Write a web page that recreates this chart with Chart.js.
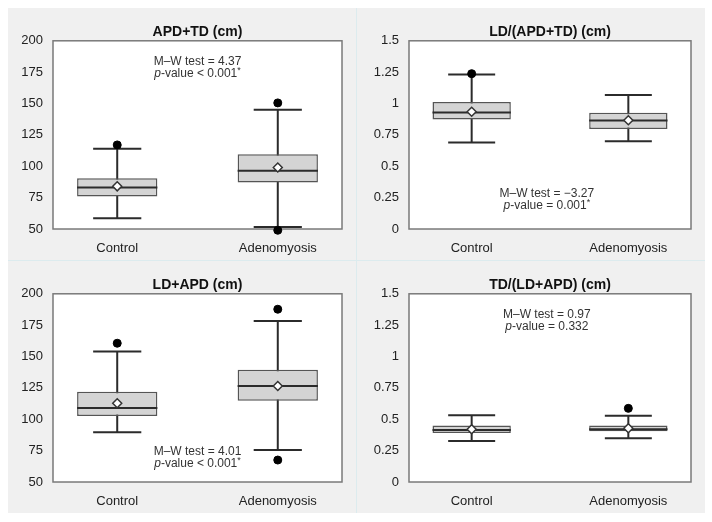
<!DOCTYPE html>
<html>
<head>
<meta charset="utf-8">
<script src="https://cdn.jsdelivr.net/npm/chart.js@4.4.0/dist/chart.umd.min.js"></script>
<style>
  html, body { margin: 0; background: #fff; }
  #grid {
    position: absolute; left: 8px; top: 8px;
    display: grid; grid-template-columns: 348px 348px; grid-template-rows: 252px 252px;
    gap: 1px; background: #dcebee;
  }
  canvas { display: block; background: #f0f0f0; }
</style>
</head>
<body>
<div id="grid">
  <canvas id="apdTd" width="348" height="252"></canvas>
  <canvas id="ldRatio" width="348" height="252"></canvas>
  <canvas id="ldApd" width="348" height="252"></canvas>
  <canvas id="tdRatio" width="348" height="252"></canvas>
</div>
<script>
const categories = ['Control', 'Adenomyosis'];

// each group: lower whisker, Q1, median, Q3, upper whisker
const apdTdControl = [58.5, 76, 83, 90.5, 114];
const apdTdAdeno = [51.5, 87, 96.5, 109.5, 145];
const apdTdMeans = [84, 99];
const apdTdOutliers = [[117], [150.5, 49]];

const ldRatioControl = [0.69, 0.872, 0.928, 1.012, 1.232];
const ldRatioAdeno = [0.70, 0.797, 0.864, 0.927, 1.068];
const ldRatioMeans = [0.934, 0.867];
const ldRatioOutliers = [[1.238], []];

const ldApdControl = [89.7, 102.6, 109, 121.9, 154];
const ldApdAdeno = [75.5, 114.7, 126.5, 139.4, 178.3];
const ldApdMeans = [112.8, 126.5];
const ldApdOutliers = [[160.6], [187.7, 67.5]];

const tdRatioControl = [0.327, 0.391, 0.415, 0.45, 0.533];
const tdRatioAdeno = [0.348, 0.404, 0.42, 0.45, 0.528];
const tdRatioMeans = [0.42, 0.428];
const tdRatioOutliers = [[], [0.587]];

const cmTicks = [50, 75, 100, 125, 150, 175, 200];
const ratioTicks = [0, 0.25, 0.5, 0.75, 1, 1.25, 1.5];

const mwTests = ['4.37', '\u22123.27', '4.01', '0.97'];
const pValues = ['< 0.001', '= 0.001', '< 0.001', '= 0.332'];
const pSignificant = [true, true, true, false];

Chart.defaults.font.family = '"Liberation Sans", Arial, sans-serif';
Chart.defaults.color = '#222';

// white plot area with a grey frame
const framePlugin = {
  id: 'frame',
  beforeDatasetsDraw(chart) {
    const { ctx, chartArea: a } = chart;
    ctx.save();
    ctx.fillStyle = '#fff';
    ctx.fillRect(a.left, a.top, a.width, a.height);
    ctx.strokeStyle = '#7a7a7a';
    ctx.lineWidth = 1.5;
    ctx.strokeRect(a.left, a.top, a.width, a.height);
    ctx.restore();
  }
};

// Mann-Whitney text, placed in data units
const notePlugin = {
  id: 'note',
  afterDatasetsDraw(chart, args, opts) {
    const { ctx, scales: { x, y } } = chart;
    const cx = x.getPixelForValue(opts.x);
    let cy = y.getPixelForValue(opts.y);
    const normal = '12px "Liberation Sans", Arial, sans-serif';
    const italic = 'italic 12px "Liberation Sans", Arial, sans-serif';
    const small = '9px "Liberation Sans", Arial, sans-serif';
    ctx.save();
    ctx.fillStyle = '#333';
    ctx.textBaseline = 'middle';
    ctx.textAlign = 'left';
    opts.lines.forEach(parts => {
      let w = 0;
      parts.forEach(p => {
        ctx.font = p.s === 'i' ? italic : p.s === 'sup' ? small : normal;
        w += ctx.measureText(p.t).width;
      });
      let px = cx - w / 2;
      parts.forEach(p => {
        ctx.font = p.s === 'i' ? italic : p.s === 'sup' ? small : normal;
        ctx.fillText(p.t, px, p.s === 'sup' ? cy - 3 : cy);
        px += ctx.measureText(p.t).width;
      });
      cy += opts.lineGap;
    });
    ctx.restore();
  }
};

function noteLines(i) {
  const second = [{ t: 'p', s: 'i' }, { t: '-value ' + pValues[i], s: '' }];
  if (pSignificant[i]) second.push({ t: '*', s: 'sup' });
  return [[{ t: 'M\u2013W test = ' + mwTests[i], s: '' }], second];
}

function boxPanel(id, title, groups, means, outliers, yTicks, note, axisWidth) {
  const whiskers = [];
  const medians = [];
  groups.forEach((s, i) => {
    const x = i + 1;
    whiskers.push(
      { x, y: s[0] }, { x, y: s[4] }, { x, y: null },
      { x: x - 0.15, y: s[0] }, { x: x + 0.15, y: s[0] }, { x, y: null },
      { x: x - 0.15, y: s[4] }, { x: x + 0.15, y: s[4] }, { x, y: null }
    );
    medians.push({ x: x - 0.25, y: s[2] }, { x: x + 0.25, y: s[2] }, { x, y: null });
  });
  const outlierPts = [];
  outliers.forEach((list, i) => list.forEach(v => outlierPts.push({ x: i + 1, y: v })));

  new Chart(document.getElementById(id), {
    type: 'bar',
    data: {
      datasets: [
        {
          type: 'line', data: whiskers, borderColor: '#2b2b2b', borderWidth: 2,
          pointRadius: 0, spanGaps: false, order: 5
        },
        {
          type: 'bar', data: groups.map((s, i) => ({ x: i + 1, y: [s[1], s[3]] })),
          backgroundColor: '#d4d4d4', borderColor: '#555', borderWidth: 1.5,
          borderSkipped: false, barPercentage: 0.5, categoryPercentage: 1, order: 4
        },
        {
          type: 'line', data: medians, borderColor: '#2b2b2b', borderWidth: 2,
          pointRadius: 0, spanGaps: false, order: 3
        },
        {
          type: 'line', data: means.map((v, i) => ({ x: i + 1, y: v })), showLine: false,
          pointStyle: 'rectRot', pointRadius: 4.5, pointBackgroundColor: '#fff',
          pointBorderColor: '#333', pointBorderWidth: 1.5, order: 2
        },
        {
          type: 'line', data: outlierPts, showLine: false, clip: false,
          pointRadius: 4, pointBackgroundColor: '#000', pointBorderColor: '#000', order: 1
        }
      ]
    },
    options: {
      responsive: false,
      animation: false,
      layout: { padding: { right: 14 } },
      plugins: {
        legend: { display: false },
        tooltip: { enabled: false },
        title: {
          display: true, text: title, fullSize: false, color: '#111',
          font: { size: 14, weight: 'bold' }, padding: { top: 16, bottom: 0 }
        },
        note: note
      },
      scales: {
        x: {
          type: 'linear', min: 0.6, max: 2.4, offset: false,
          grid: { display: false }, border: { display: false },
          afterBuildTicks: s => { s.ticks = categories.map((c, i) => ({ value: i + 1 })); },
          afterFit: s => { s.height = 31; },
          ticks: {
            autoSkip: false, maxRotation: 0, padding: 4, color: '#222', font: { size: 13 },
            callback: v => categories[v - 1]
          }
        },
        y: {
          min: yTicks[0], max: yTicks[yTicks.length - 1],
          grid: { display: false }, border: { display: false },
          afterBuildTicks: s => { s.ticks = yTicks.map(v => ({ value: v })); },
          afterFit: s => { s.width = axisWidth; },
          ticks: { padding: 2, color: '#222', font: { size: 13 }, callback: v => String(v) }
        }
      }
    },
    plugins: [framePlugin, notePlugin]
  });
}

boxPanel('apdTd', 'APD+TD (cm)', [apdTdControl, apdTdAdeno], apdTdMeans, apdTdOutliers,
  cmTicks, { x: 1.5, y: 183.5, lineGap: 12, lines: noteLines(0) }, 45);
boxPanel('ldRatio', 'LD/(APD+TD) (cm)', [ldRatioControl, ldRatioAdeno], ldRatioMeans, ldRatioOutliers,
  ratioTicks, { x: 1.48, y: 0.285, lineGap: 12, lines: noteLines(1) }, 52);
boxPanel('ldApd', 'LD+APD (cm)', [ldApdControl, ldApdAdeno], ldApdMeans, ldApdOutliers,
  cmTicks, { x: 1.5, y: 74, lineGap: 12, lines: noteLines(2) }, 45);
boxPanel('tdRatio', 'TD/(LD+APD) (cm)', [tdRatioControl, tdRatioAdeno], tdRatioMeans, tdRatioOutliers,
  ratioTicks, { x: 1.48, y: 1.33, lineGap: 12, lines: noteLines(3) }, 52);
</script>
</body>
</html>
